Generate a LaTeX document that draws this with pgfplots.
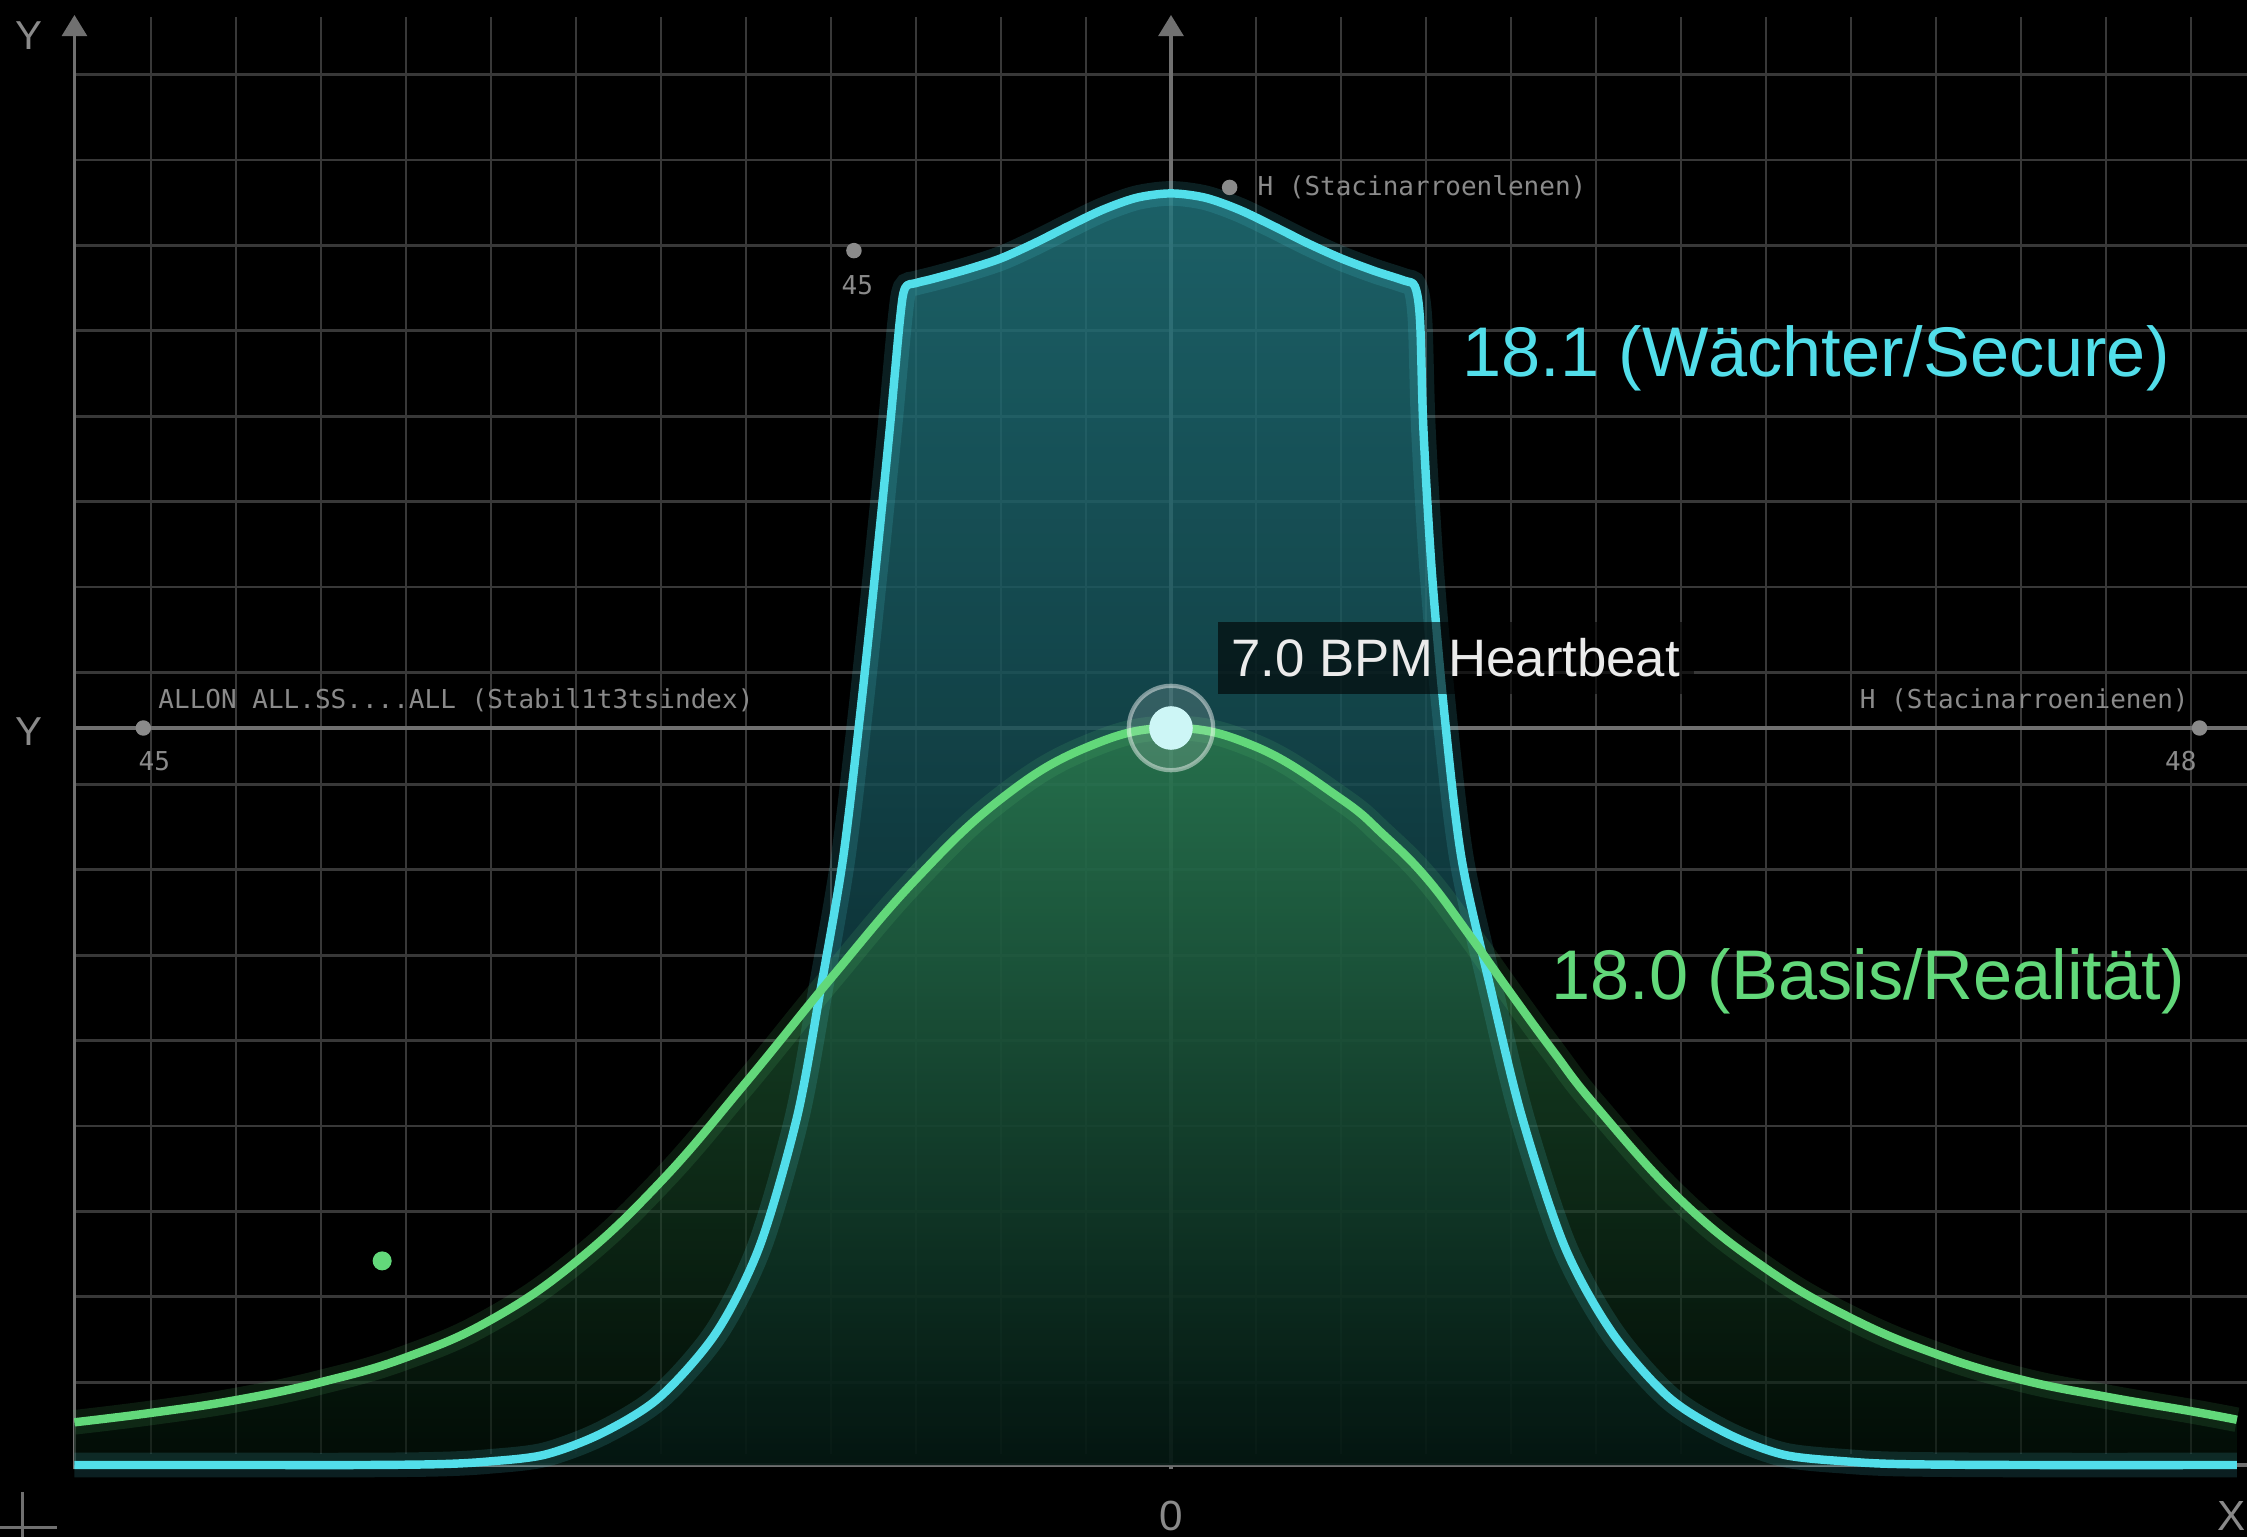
\documentclass[border=0pt]{standalone}
\usepackage{pgfplots}
\pgfplotsset{compat=1.18}
\usepackage{pgfplotstable}
\usepackage{fontspec}
\usetikzlibrary{arrows.meta}
\setmainfont{Liberation Sans}
\newfontfamily\monof{DejaVu Sans Mono}
\definecolor{gridc}{RGB}{56,56,56}
\definecolor{axc}{RGB}{112,112,112}
\definecolor{cyanl}{RGB}{82,222,234}
\definecolor{greenl}{RGB}{98,216,122}
\definecolor{cyantop}{RGB}{34,118,126}
\definecolor{cyanbot}{RGB}{6,30,34}
\definecolor{greentop}{RGB}{50,140,80}
\definecolor{greenbot}{RGB}{4,20,10}
\definecolor{labc}{RGB}{138,138,138}
\definecolor{peakc}{RGB}{205,246,246}

\pgfplotstableread{
x y
-12.9 0
-11.0 0
-9.5 0.0
-8.6 0.01
-8.04 0.04
-7.37 0.12
-6.70 0.37
-6.02 0.79
-5.35 1.55
-4.84 2.56
-4.40 4.07
-4.12 5.58
-3.86 7.09
-3.66 8.76
-3.48 10.44
-3.31 12.12
-3.19 13.40
-3.13 13.78
-3.00 13.84
-2.8 13.89
-2.4 14.00
-2.0 14.13
-1.6 14.31
-1.2 14.51
-0.8 14.70
-0.4 14.84
0 14.89
0.4 14.84
0.8 14.70
1.2 14.51
1.6 14.31
2.0 14.13
2.4 13.98
2.74 13.87
2.87 13.80
2.93 13.40
2.97 12.12
3.07 10.44
3.22 8.76
3.42 7.09
3.76 5.58
4.13 4.07
4.63 2.56
5.19 1.55
5.86 0.79
6.54 0.37
7.21 0.12
7.97 0.04
8.6 0.01
10.0 0
12.54 0
}\cyandata

\pgfplotstableread{
x y
-12.9 0.50
-12.0 0.61
-11.0 0.76
-10.0 0.97
-9.0 1.26
-8.0 1.70
-7.0 2.38
-6.0 3.32
-5.0 4.48
-4.0 5.70
-3.0 6.86
-2.0 7.80
-1.0 8.40
0 8.63
1.0 8.41
2.0 7.80
2.5 7.38
3.0 6.88
3.5 6.22
4.0 5.52
4.5 4.84
5.0 4.20
6.0 3.10
7.0 2.30
8.0 1.72
9.0 1.30
10.0 1.00
11.0 0.80
12.0 0.63
12.54 0.53
}\greendata

\begin{document}
\begin{tikzpicture}
\fill[black] (0,0) rectangle (22.47cm,15.37cm);
\useasboundingbox (0,0) rectangle (22.47cm,15.37cm);
\begin{axis}[
  at={(0,0)}, anchor=south west,
  width=22.47cm, height=15.37cm, scale only axis,
  xmin=-13.776, xmax=12.659, ymin=-0.843, ymax=17.155,
  hide axis, clip=false,
]
% grid
\pgfplotsinvokeforeach{-12,-11,-10,-9,-8,-7,-6,-5,-4,-3,-2,-1,1,2,3,4,5,6,7,8,9,10,11,12}{
  \draw[gridc, line width=0.8pt] (axis cs:#1,0.13) -- (axis cs:#1,16.96);
}
\pgfplotsinvokeforeach{0.97,1.97,2.97,3.97,4.97,5.97,6.97,7.97,9.28,10.28,11.28,12.28,13.28,14.28,15.28,16.28}{
  \draw[gridc, line width=0.8pt] (axis cs:-12.9,#1) -- (axis cs:12.66,#1);
}
% axes
\draw[axc, line width=1.1pt, -{Triangle[width=7pt,length=6pt]}] (axis cs:-12.9,-0.05) -- (axis cs:-12.9,16.98);
\draw[axc, line width=1.1pt, -{Triangle[width=7pt,length=6pt]}] (axis cs:0,-0.05) -- (axis cs:0,16.98);
\draw[axc, line width=1.1pt] (axis cs:-12.9,8.63) -- (axis cs:12.66,8.63);
\draw[axc, line width=1.1pt] (axis cs:-12.9,0) -- (axis cs:12.66,0);
\draw[axc, line width=0.8pt] (axis cs:-13.776,-0.73) -- (axis cs:-13.1,-0.73);
\draw[axc, line width=0.8pt] (axis cs:-13.51,-0.32) -- (axis cs:-13.51,-0.843);

% fills
\addplot[draw=none, shade, top color=cyantop, bottom color=cyanbot, fill opacity=0.82, smooth, tension=0.5]
  table[x=x,y=y] {\cyandata} -- cycle;
\addplot[draw=none, shade, top color=greentop, bottom color=greenbot, fill opacity=0.62, smooth, tension=0.7]
  table[x=x,y=y] {\greendata} -- (axis cs:12.54,0) -- (axis cs:-12.9,0) -- cycle;

% glow + lines
\addplot[cyanl, line width=7pt, opacity=0.14, smooth, tension=0.5] table[x=x,y=y] {\cyandata};
\addplot[greenl, line width=7pt, opacity=0.12, smooth, tension=0.7] table[x=x,y=y] {\greendata};
\addplot[cyanl, line width=2.4pt, smooth, tension=0.5, line join=round] table[x=x,y=y] {\cyandata};
\addplot[greenl, line width=2.4pt, smooth, tension=0.7] table[x=x,y=y] {\greendata};

% markers
\addplot[only marks, mark=*, mark size=2pt, labc] coordinates {(-12.09,8.63) (12.10,8.63) (-3.73,14.22) (0.69,14.96)};
\addplot[only marks, mark=*, mark size=2.5pt, greenl] coordinates {(-9.28,2.39)};
\addplot[only marks, mark=*, mark size=12pt, mark options={draw=white, draw opacity=0.45, line width=1.2pt, fill=white, fill opacity=0.14}] coordinates {(0,8.63)};
\addplot[only marks, mark=*, mark size=6pt, mark options={draw=peakc, fill=peakc}] coordinates {(0,8.63)};

% texts
\node[anchor=center, text=labc, font=\fontsize{11.5}{13}\selectfont] at (axis cs:-13.44,16.74) {Y};
\node[anchor=center, text=labc, font=\fontsize{11.5}{13}\selectfont] at (axis cs:-13.44,8.59) {Y};
\node[anchor=center, text=labc, font=\fontsize{12}{14}\selectfont] at (axis cs:0,-0.60) {0};
\node[anchor=east, inner sep=0pt, text=labc, font=\fontsize{12}{14}\selectfont] at (axis cs:12.65,-0.60) {X};

\node[anchor=west, text=labc, font=\monof\fontsize{7.4}{9}\selectfont, inner sep=0pt] at (axis cs:-11.92,8.95) {ALLON ALL.SS....ALL (Stabil1t3tsindex)};
\node[anchor=east, text=labc, font=\monof\fontsize{7.4}{9}\selectfont, inner sep=0pt] at (axis cs:11.98,8.95) {H (Stacinarroenienen)};
\node[anchor=west, text=labc, font=\monof\fontsize{7.4}{9}\selectfont, inner sep=0pt] at (axis cs:1.01,14.96) {H (Stacinarroenlenen)};
\node[anchor=center, text=labc, font=\monof\fontsize{7.4}{9}\selectfont, inner sep=0pt] at (axis cs:-11.96,8.24) {45};
\node[anchor=center, text=labc, font=\monof\fontsize{7.4}{9}\selectfont, inner sep=0pt] at (axis cs:11.88,8.24) {48};
\node[anchor=center, text=labc, font=\monof\fontsize{7.4}{9}\selectfont, inner sep=0pt] at (axis cs:-3.69,13.82) {45};

\node[anchor=west, fill=black, fill opacity=0.6, text opacity=1, text=white!92!black, inner xsep=0.14cm, inner ysep=0pt, minimum height=0.72cm, font=\fontsize{15}{17}\selectfont] at (axis cs:0.54,9.45) {7.0 BPM Heartbeat};

\node[anchor=west, inner sep=0pt, text=cyanl, font=\fontsize{20}{24}\selectfont] at (axis cs:3.42,12.96) {18.1 (Wächter/Secure)};
\node[anchor=west, inner sep=0pt, text=greenl, font=\fontsize{20}{24}\selectfont] at (axis cs:4.47,5.66) {18.0 (Basis/Realität)};
\end{axis}
\end{tikzpicture}
\end{document}
